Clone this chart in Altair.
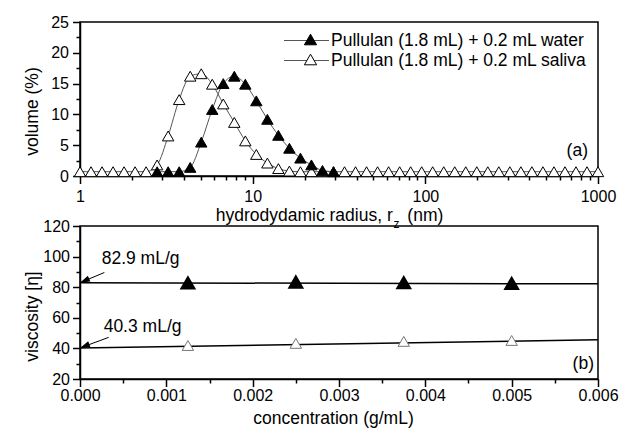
import altair as alt
import pandas as pd

# ---------------- data ----------------
radius_nm = [1.00, 1.158, 1.342, 1.554, 1.800, 2.085, 2.415, 2.797, 3.240, 3.754,
             4.348, 5.037, 5.834, 6.758, 7.828, 9.067, 10.50, 12.17, 14.09, 16.32,
             18.91, 21.90, 25.37, 29.39, 34.04, 39.43, 45.67, 52.90, 61.28, 70.98,
             82.22, 95.24, 110.3, 127.8, 148.0, 171.4, 198.6, 230.0, 266.4, 308.6,
             357.5, 414.1, 479.7, 555.6, 643.6, 745.5, 863.6, 1000.0]

volume_saliva = [0.7, 0.7, 0.7, 0.7, 0.7, 0.7, 0.7,
                 1.8, 6.5, 12.4, 16.2, 16.6, 14.9, 11.7, 8.7, 5.7, 3.5, 2.1, 1.2, 0.8, 0.7,
                 0.7, 0.7, 0.7, 0.7, 0.7, 0.7, 0.7, 0.7, 0.7, 0.7, 0.7, 0.7, 0.7, 0.7,
                 0.7, 0.7, 0.7, 0.7, 0.7, 0.7, 0.7, 0.7, 0.7, 0.7, 0.7, 0.7, 0.7]

radius_water = radius_nm[7:24]
volume_water = [0.7, 0.7, 0.7, 1.4, 5.5, 10.8, 15.0, 16.2, 14.9, 12.2, 9.2, 6.6,
                4.5, 2.9, 1.8, 0.9, 0.7]

series_labels = ["Pullulan (1.8 mL) + 0.2 mL water",
                 "Pullulan (1.8 mL) + 0.2 mL saliva"]

conc = [0.00125, 0.0025, 0.00375, 0.005]
eta_water = [82.8, 83.4, 83.0, 82.5]
eta_saliva = [41.9, 43.3, 44.6, 45.2]
fit_conc = [0.0, 0.006]
fit_water = [82.9, 82.2]
fit_saliva = [40.3, 45.6]
intrinsic = [82.9, 40.3]
intrinsic_labels = ["82.9 mL/g", "40.3 mL/g"]

FONT = "Liberation Sans"
NB = "\u00a0"
W = 518
H_TOP = 154
H_BOT = 153
TRI = 130

df_sal = pd.DataFrame({"r": radius_nm, "v": volume_saliva})
df_wat = pd.DataFrame({"r": radius_water, "v": volume_water})
one = pd.DataFrame({"a": [0]})

# ---------------- top panel ----------------
xs = alt.Scale(type="log", domain=[1, 1000], nice=False)
ys = alt.Scale(domain=[0, 25], nice=False)

x_main = alt.Axis(values=[1, 10, 100, 1000], format=".0f", tickSize=7.5, labelPadding=5,
                  labelFlush=False,
                  title="hydrodydamic radius, r" + NB * 3 + "(nm)", titleX=249, titleY=44,
                  titleBaseline="alphabetic", orient="bottom")
y_main = alt.Axis(values=[0, 5, 10, 15, 20, 25], tickSize=7.5, labelPadding=4,
                  title="volume (%)", titleX=-43, titleY=89, titleBaseline="alphabetic",
                  orient="left")
minor_x_vals = [m * d for d in (1, 10, 100) for m in range(2, 10)]
x_minor = alt.Axis(values=minor_x_vals, tickSize=4, labels=False, domain=False,
                   title=None, orient="bottom")
y_minor = alt.Axis(values=[2.5, 7.5, 12.5, 17.5, 22.5], tickSize=4, labels=False,
                   domain=False, title=None, orient="left")

line_sal = alt.Chart(df_sal).mark_line(color="#555555", strokeWidth=1,
                                       interpolate="monotone").encode(
    x=alt.X("r:Q", scale=xs, axis=x_main), y=alt.Y("v:Q", scale=ys, axis=y_main))
minor = alt.Chart(df_sal).mark_line(opacity=0).encode(
    x=alt.X("r:Q", scale=xs, axis=x_minor), y=alt.Y("v:Q", scale=ys, axis=y_minor))
pts_sal = alt.Chart(df_sal).mark_point(shape="triangle-up", filled=True, fill="white",
                                       stroke="black", strokeWidth=1, size=TRI,
                                       opacity=1).encode(
    x=alt.X("r:Q", scale=xs, axis=None), y=alt.Y("v:Q", scale=ys, axis=None))
line_wat = alt.Chart(df_wat).mark_line(color="#555555", strokeWidth=1,
                                       interpolate="monotone").encode(
    x=alt.X("r:Q", scale=xs, axis=None), y=alt.Y("v:Q", scale=ys, axis=None))
pts_wat = alt.Chart(df_wat).mark_point(shape="triangle-up", filled=True, fill="black",
                                       stroke="black", strokeWidth=1, size=TRI,
                                       opacity=1).encode(
    x=alt.X("r:Q", scale=xs, axis=None), y=alt.Y("v:Q", scale=ys, axis=None))

def legend_row(i, ypx, fill):
    seg = alt.Chart(one).mark_rule(color="#555555", strokeWidth=1).encode(
        x=alt.value(204), x2=alt.value(249), y=alt.value(ypx + 1))
    sym = alt.Chart(one).mark_point(shape="triangle-up", filled=True, fill=fill,
                                    stroke="black", strokeWidth=1, size=TRI + 20,
                                    opacity=1).encode(
        x=alt.value(230.5), y=alt.value(ypx))
    txt = alt.Chart(one).mark_text(text=series_labels[i], align="left",
                                   baseline="alphabetic", fontSize=17.5,
                                   font=FONT, color="black").encode(
        x=alt.value(251), y=alt.value(ypx + 6))
    return [seg, sym, txt]

leg = legend_row(0, 17.5, "black") + legend_row(1, 37.5, "white")

sub_z = alt.Chart(one).mark_text(text="z", align="center", baseline="alphabetic",
                                 fontSize=12, font=FONT, color="black").encode(
    x=alt.value(316.5), y=alt.value(206))
tag_a = alt.Chart(one).mark_text(text="(a)", align="right", baseline="alphabetic",
                                 fontSize=17.5, font=FONT, color="black").encode(
    x=alt.value(508), y=alt.value(134))

top = alt.layer(line_sal, minor, pts_sal, line_wat, pts_wat, *leg, sub_z, tag_a).resolve_axis(
    x="independent", y="independent").properties(width=W, height=H_TOP)

# ---------------- bottom panel ----------------
bx = alt.Scale(domain=[0, 0.006], nice=False)
by = alt.Scale(domain=[20, 120], nice=False)

bx_main = alt.Axis(values=[0, 0.001, 0.002, 0.003, 0.004, 0.005, 0.006], format=".3f",
                   tickSize=7.5, labelPadding=1, labelFlush=False,
                   title="concentration (g/mL)",
                   titleX=253, titleY=44, titleBaseline="alphabetic", orient="bottom")
by_main = alt.Axis(values=[20, 40, 60, 80, 100, 120], tickSize=7.5, labelPadding=3,
                   title="viscosity [η]", titleX=-43, titleY=90,
                   titleBaseline="alphabetic", orient="left")
bx_minor = alt.Axis(values=[0.0005, 0.0015, 0.0025, 0.0035, 0.0045, 0.0055], tickSize=4,
                    labels=False, domain=False, title=None, orient="bottom")
by_minor = alt.Axis(values=[30, 50, 70, 90, 110], tickSize=4, labels=False, domain=False,
                    title=None, orient="left")

df_fit = pd.DataFrame({"c": fit_conc + fit_conc,
                       "eta": fit_water + fit_saliva,
                       "s": ["water"] * 2 + ["saliva"] * 2})
df_bw = pd.DataFrame({"c": conc, "eta": eta_water})
df_bs = pd.DataFrame({"c": conc, "eta": eta_saliva})
df_arrow = pd.DataFrame({"c0": [0.0, 0.0], "e0": intrinsic,
                         "c1": [0.000282, 0.000332], "e1": [89.6, 47.2],
                         "tc": [0.000251, 0.000274], "te": [95.3, 51.0],
                         "lab": intrinsic_labels, "ang": [336, 339]})

fit_lines = alt.Chart(df_fit).mark_line(color="black", strokeWidth=1.5).encode(
    x=alt.X("c:Q", scale=bx, axis=bx_main), y=alt.Y("eta:Q", scale=by, axis=by_main),
    detail="s:N")
bminor = alt.Chart(df_fit).mark_line(opacity=0).encode(
    x=alt.X("c:Q", scale=bx, axis=bx_minor), y=alt.Y("eta:Q", scale=by, axis=by_minor),
    detail="s:N")
bpts_w = alt.Chart(df_bw).mark_point(shape="triangle-up", filled=True, fill="black",
                                     stroke="black", size=170, opacity=1).encode(
    x=alt.X("c:Q", scale=bx, axis=None), y=alt.Y("eta:Q", scale=by, axis=None))
bpts_s = alt.Chart(df_bs).mark_point(shape="triangle-up", filled=True, fill="white",
                                     stroke="#777777", strokeWidth=1, size=130,
                                     opacity=1).encode(
    x=alt.X("c:Q", scale=bx, axis=None), y=alt.Y("eta:Q", scale=by, axis=None))
arrow_lines = alt.Chart(df_arrow).mark_rule(color="black", strokeWidth=1).encode(
    x=alt.X("c0:Q", scale=bx, axis=None), y=alt.Y("e0:Q", scale=by, axis=None),
    x2="c1:Q", y2="e1:Q")
arrow_heads = alt.Chart(df_arrow).mark_point(shape="M0,0L1,-0.32L1,0.32Z", filled=True,
                                             color="black", size=400, opacity=1).encode(
    x=alt.X("c0:Q", scale=bx, axis=None), y=alt.Y("e0:Q", scale=by, axis=None),
    angle=alt.Angle("ang:Q", scale=None))
arrow_text = alt.Chart(df_arrow).mark_text(align="left", baseline="alphabetic",
                                           fontSize=17.5, font=FONT, color="black").encode(
    x=alt.X("tc:Q", scale=bx, axis=None), y=alt.Y("te:Q", scale=by, axis=None),
    text="lab:N")
tag_b = alt.Chart(one).mark_text(text="(b)", align="right", baseline="alphabetic",
                                 fontSize=17.5, font=FONT, color="black").encode(
    x=alt.value(514), y=alt.value(143))

bottom = alt.layer(fit_lines, bminor, bpts_s, bpts_w, arrow_lines, arrow_heads,
                   arrow_text, tag_b).resolve_axis(
    x="independent", y="independent").properties(width=W, height=H_BOT)

chart = alt.vconcat(top, bottom, spacing=50, bounds="flush").properties(
    padding={"left": 22, "top": 13, "right": 0, "bottom": 5}
).configure_view(stroke="black", strokeWidth=1.5).configure_axis(
    labelFont=FONT, titleFont=FONT, labelFontSize=16, titleFontSize=17.5,
    labelColor="black", titleColor="black", domainColor="black", tickColor="black",
    grid=False, titleFontWeight="normal", domainWidth=1.5, tickWidth=1.5
).configure_text(font=FONT)

chart.save("out.html", embed_options={"renderer": "svg", "actions": False})
